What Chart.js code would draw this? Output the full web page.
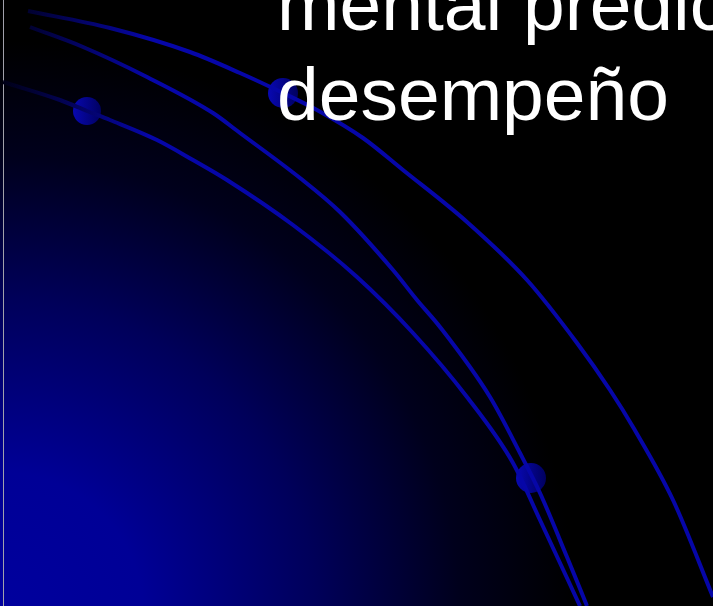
<!DOCTYPE html>
<html>
<head>
<meta charset="utf-8">
<script src="https://cdn.jsdelivr.net/npm/chart.js@4"></script>
<style>
  html, body { margin: 0; padding: 0; background: #000; overflow: hidden; }
  canvas { display: block; }
</style>
</head>
<body>
<canvas id="miGrafico" width="713" height="606"></canvas>
<script>
// curvas (coordenadas, eje y hacia abajo)
const curvaArribaX = [28, 110, 190, 240, 283, 317, 363, 403, 467, 527, 577, 610, 633, 673, 713];
const curvaArribaY = [11, 28, 52, 73, 93, 110, 138, 170, 222, 280, 343, 390, 427, 500, 597];
const curvaMedioX = [30, 83, 147, 213, 240, 300, 340, 393, 417, 440, 490, 520, 540, 567, 587];
const curvaMedioY = [27, 47, 77, 113, 133, 178, 212, 270, 300, 327, 397, 453, 493, 557, 606];
const curvaAbajoX = [3, 60, 87, 110, 157, 193, 227, 293, 357, 413, 467, 513, 540, 580];
const curvaAbajoY = [82, 100, 111, 120, 140, 160, 180, 225, 277, 333, 397, 463, 520, 606];
const puntosX = [87, 283, 531];
const puntosY = [111, 93, 478];
const titulo = ['mental predictor del', 'desempeño'];

const ctx = document.getElementById('miGrafico').getContext('2d');

function juntar(xs, ys) {
    return xs.map((x, i) => ({ x: x, y: ys[i] }));
}

// la linea entra desde negro por la izquierda
function colorLinea(context) {
    const c = context.chart.ctx;
    const g = c.createLinearGradient(0, 0, 150, 0);
    g.addColorStop(0, 'rgba(0,0,20,1)');
    g.addColorStop(1, 'rgb(6,6,168)');
    return g;
}

function colorPunto(context) {
    const chart = context.chart;
    if (context.type !== 'data' || !chart.scales.x) return 'rgb(0,0,150)';
    const px = chart.scales.x.getPixelForValue(puntosX[context.dataIndex]);
    if (!isFinite(px)) return 'rgb(0,0,150)';
    const g = chart.ctx.createLinearGradient(px - 15, 0, px + 15, 0);
    g.addColorStop(0, 'rgb(8,8,178)');
    g.addColorStop(1, 'rgb(0,0,95)');
    return g;
}

const fondo = {
    id: 'fondo',
    beforeDraw(chart) {
        const c = chart.ctx;
        const w = chart.width, h = chart.height;
        c.save();
        c.fillStyle = '#000';
        c.fillRect(0, 0, w, h);
        const g = c.createRadialGradient(0, h + 10, 0, 0, h + 10, 575);
        g.addColorStop(0, 'rgb(0,0,158)');
        g.addColorStop(0.25, 'rgb(0,0,150)');
        g.addColorStop(0.55, 'rgb(0,0,90)');
        g.addColorStop(0.8, 'rgb(0,0,28)');
        g.addColorStop(1, 'rgb(0,0,0)');
        c.fillStyle = g;
        c.fillRect(0, 0, w, h);
        c.fillStyle = '#a0a0aa';
        c.fillRect(3, 0, 1, h);
        c.restore();
    }
};

const texto = {
    id: 'texto',
    afterDraw(chart) {
        const c = chart.ctx;
        c.save();
        c.fillStyle = '#fff';
        c.font = '75px "Liberation Sans", Arial, sans-serif';
        c.textBaseline = 'alphabetic';
        c.fillText(titulo[0], 277, 30);
        c.fillText(titulo[1], 277, 120);
        c.restore();
    }
};

const linea = {
    showLine: true,
    borderWidth: 4,
    borderColor: colorLinea,
    pointRadius: 0,
    pointHoverRadius: 0,
    tension: 0.4,
    cubicInterpolationMode: 'monotone',
    fill: false
};

const grafico = new Chart(ctx, {
    type: 'scatter',
    data: {
        datasets: [
            Object.assign({ label: 'arriba', data: juntar(curvaArribaX, curvaArribaY) }, linea),
            Object.assign({ label: 'medio', data: juntar(curvaMedioX, curvaMedioY) }, linea),
            Object.assign({ label: 'abajo', data: juntar(curvaAbajoX, curvaAbajoY) }, linea),
            {
                label: 'puntos',
                data: juntar(puntosX, puntosY),
                pointRadius: [14, 15, 15],
                backgroundColor: colorPunto,
                borderWidth: 0,
                showLine: false
            }
        ]
    },
    options: {
        responsive: false,
        animation: false,
        devicePixelRatio: 1,
        layout: { padding: 0, autoPadding: false },
        clip: false,
        plugins: {
            legend: { display: false },
            tooltip: { enabled: false }
        },
        scales: {
            x: { type: 'linear', min: 0, max: 713, display: false },
            y: { type: 'linear', min: 0, max: 606, reverse: true, display: false }
        }
    },
    plugins: [fondo, texto]
});
</script>
</body>
</html>
